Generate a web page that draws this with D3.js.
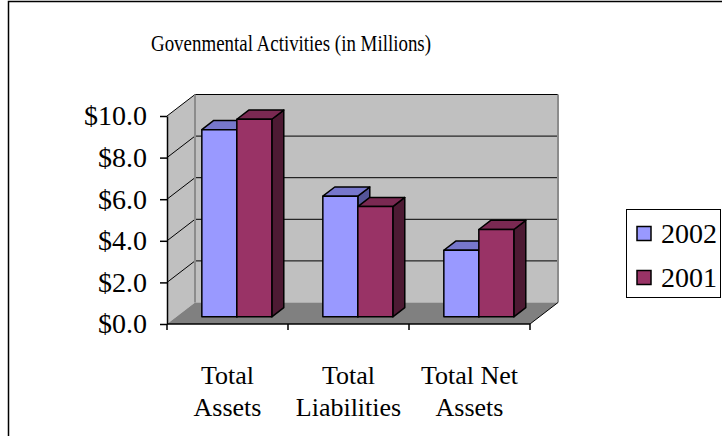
<!DOCTYPE html>
<html>
<head>
<meta charset="utf-8">
<script src="https://cdn.jsdelivr.net/npm/d3@7/dist/d3.min.js"></script>
<style>
  body { margin: 0; background: #fff; }
  svg { display: block; font-family: 'Liberation Serif', 'Times New Roman', serif; }
</style>
</head>
<body>
<div id="chart"></div>
<script>
var chartTitle = 'Govenmental Activities (in Millions)';
var categories = ['Total Assets', 'Total Liabilities', 'Total Net Assets'];
var categoryLines = [['Total', 'Assets'], ['Total', 'Liabilities'], ['Total Net', 'Assets']];
var seriesNames = ['2002', '2001'];
var values2002 = [9.0, 5.8, 3.2];
var values2001 = [9.5, 5.3, 4.2];
var yTicks = [0, 2, 4, 6, 8, 10];

(function(window){
    'use strict';

    var W = 722, H = 436;
    var depthX = 28, depthY = 21.5;     // full depth of the 3d floor
    var barFront = 1 / 3, barBack = 0.76; // bar position inside the depth
    var groupWidth = 70;

    var faces = {
        '2002': { front: '#9999ff', top: '#7777cc', side: '#555599' },
        '2001': { front: '#993366', top: '#7a2952', side: '#4d1a33' }
    };
    var seriesValues = { '2002': values2002, '2001': values2001 };

    var svg = d3.select('#chart').append('svg').attr('width', W).attr('height', H);
    svg.append('rect').attr('width', W).attr('height', H).attr('fill', '#fff');
    svg.append('rect').attr('x', 8.5).attr('y', 1.5).attr('width', 800).attr('height', 600)
        .attr('fill', 'none').attr('stroke', '#000').attr('stroke-width', 1.5);

    svg.append('text').attr('x', 291).attr('y', 51).attr('text-anchor', 'middle')
        .attr('font-size', 24).attr('textLength', 280).attr('lengthAdjust', 'spacingAndGlyphs')
        .text(chartTitle);

    var y = d3.scaleLinear().domain([0, 10]).range([324, 116]);
    var x = d3.scaleBand().domain(categories).range([167, 530]);
    var bx = d3.scaleBand().domain(seriesNames).range([0, groupWidth]);

    function shift(p, f) { return [p[0] + depthX * f, p[1] - depthY * f]; }
    function pts(a) { return a.map(function(p) { return p[0] + ',' + p[1]; }).join(' '); }

    var x0 = x.range()[0], x1 = x.range()[1];
    var yb = y(0), yt = y(10);

    // side wall, back wall, floor
    svg.append('polygon').attr('fill', '#c0c0c0')
        .attr('points', pts([[x0, yb], [x0, yt], shift([x0, yt], 1), shift([x0, yb], 1)]));
    svg.append('polygon').attr('fill', '#c0c0c0')
        .attr('points', pts([shift([x0, yt], 1), shift([x1, yt], 1), shift([x1, yb], 1), shift([x0, yb], 1)]));
    svg.append('polygon').attr('fill', '#808080')
        .attr('points', pts([[x0, yb], [x1, yb], shift([x1, yb], 1), shift([x0, yb], 1)]));

    // gridlines on the walls
    var gridTicks = yTicks.filter(function(d) { return d > 0; });
    var grid = svg.append('g').attr('stroke', '#000').attr('stroke-width', 1);
    grid.selectAll('line.back').data(gridTicks).enter()
        .append('line').attr('class', 'back')
        .attr('x1', x0 + depthX).attr('x2', x1 + depthX)
        .attr('y1', function(d) { return y(d) - depthY; })
        .attr('y2', function(d) { return y(d) - depthY; });
    grid.selectAll('line.side').data(gridTicks).enter()
        .append('line').attr('class', 'side')
        .attr('x1', x0).attr('x2', x0 + depthX)
        .attr('y1', function(d) { return y(d); })
        .attr('y2', function(d) { return y(d) - depthY; });

    // wall corner edges
    svg.append('line').attr('x1', x0 + depthX).attr('x2', x0 + depthX)
        .attr('y1', yt - depthY).attr('y2', yb - depthY)
        .attr('stroke', '#8c8c8c').attr('stroke-width', 2);
    svg.append('line').attr('x1', x1 + depthX).attr('x2', x1 + depthX)
        .attr('y1', yt - depthY).attr('y2', yb - depthY)
        .attr('stroke', '#8c8c8c').attr('stroke-width', 2);
    svg.append('line').attr('x1', x1).attr('y1', yb).attr('x2', x1 + depthX).attr('y2', yb - depthY)
        .attr('stroke', '#000').attr('stroke-width', 1);

    // bars
    var bars = [];
    categories.forEach(function(c, ci) {
        seriesNames.forEach(function(s) {
            bars.push({ cat: c, series: s, value: seriesValues[s][ci] });
        });
    });

    var barG = svg.selectAll('g.bar').data(bars).enter().append('g').attr('class', 'bar')
        .attr('stroke', '#000').attr('stroke-width', 1.5).attr('stroke-linejoin', 'round');

    barG.each(function(d) {
        var g = d3.select(this);
        var left = x(d.cat) + (x.bandwidth() - groupWidth) / 2 + bx(d.series);
        var right = left + bx.bandwidth();
        var fbl = shift([left, y(0)], barFront), fbr = shift([right, y(0)], barFront);
        var ftl = shift([left, y(d.value)], barFront), ftr = shift([right, y(d.value)], barFront);
        var btl = shift([left, y(d.value)], barBack), btr = shift([right, y(d.value)], barBack);
        var bbr = shift([right, y(0)], barBack);
        g.append('polygon').attr('fill', faces[d.series].side).attr('points', pts([ftr, btr, bbr, fbr]));
        g.append('polygon').attr('fill', faces[d.series].top).attr('points', pts([ftl, ftr, btr, btl]));
        g.append('polygon').attr('fill', faces[d.series].front).attr('points', pts([fbl, fbr, ftr, ftl]));
    });

    // value axis
    var yAxis = d3.axisLeft(y).tickValues(yTicks).tickSize(7).tickSizeOuter(0).tickPadding(13)
        .tickFormat(d3.format('$.1f'));
    var ya = svg.append('g').attr('transform', 'translate(' + x0 + ',0)').call(yAxis)
        .attr('font-family', null).attr('font-size', null);
    ya.select('.domain').attr('stroke', '#000').attr('stroke-width', 1.5);
    ya.selectAll('.tick line').attr('stroke', '#000').attr('stroke-width', 1.5);
    ya.selectAll('text').attr('font-size', 28).attr('fill', '#000');

    // category axis
    svg.append('line').attr('x1', x0).attr('x2', x1).attr('y1', yb).attr('y2', yb)
        .attr('stroke', '#000').attr('stroke-width', 1.5);
    var bounds = categories.map(function(c) { return x(c); }).concat([x1]);
    svg.selectAll('line.xtick').data(bounds).enter().append('line').attr('class', 'xtick')
        .attr('x1', function(d) { return d; }).attr('x2', function(d) { return d; })
        .attr('y1', yb).attr('y2', yb + 6).attr('stroke', '#000').attr('stroke-width', 1.5);

    var labels = svg.selectAll('text.cat').data(categories).enter().append('text').attr('class', 'cat')
        .attr('text-anchor', 'middle').attr('font-size', 26);
    labels.selectAll('tspan').data(function(d, i) { return categoryLines[i]; }).enter()
        .append('tspan')
        .attr('x', function() { return x(this.parentNode.__data__) + x.bandwidth() / 2; })
        .attr('y', function(d, i) { return 384 + i * 32; })
        .text(function(d) { return d; });

    // legend
    var legend = svg.append('g');
    legend.append('rect').attr('x', 626.5).attr('y', 209.5).attr('width', 94).attr('height', 88)
        .attr('fill', '#fff').attr('stroke', '#000').attr('stroke-width', 1);
    var item = legend.selectAll('g.item').data(seriesNames).enter().append('g').attr('class', 'item')
        .attr('transform', function(d, i) { return 'translate(0,' + (i * 44) + ')'; });
    item.append('rect').attr('x', 637).attr('y', 226.5).attr('width', 14).attr('height', 14)
        .attr('fill', function(d) { return faces[d].front; }).attr('stroke', '#000').attr('stroke-width', 1.5);
    item.append('text').attr('x', 661).attr('y', 243).attr('font-size', 28)
        .text(function(d) { return d; });

})(window);
</script>
</body>
</html>
